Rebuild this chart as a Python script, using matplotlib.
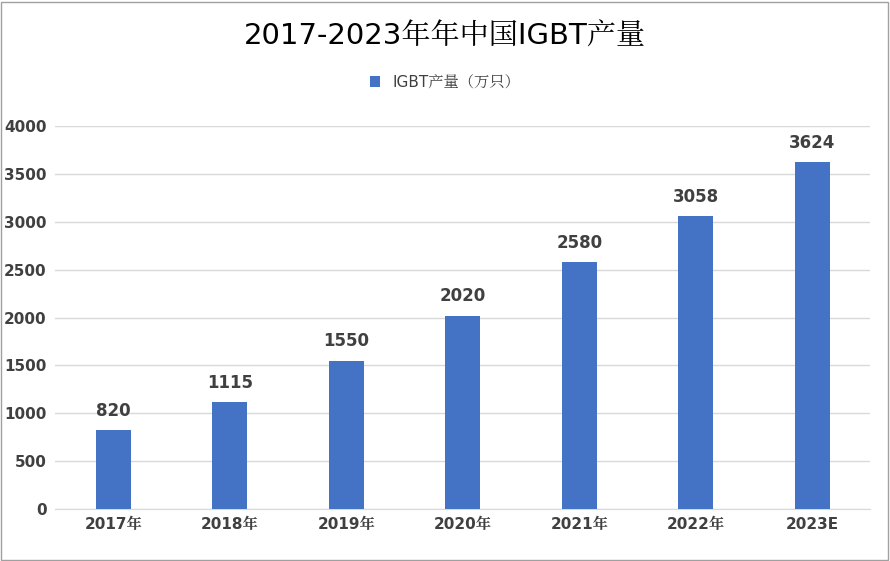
import glob
import matplotlib
matplotlib.use("Agg")
import matplotlib.pyplot as plt
from matplotlib import font_manager as fm
from matplotlib.patches import Rectangle

# find a CJK font file and register it
cjk_name = None
for f in fm.fontManager.ttflist:
    if "CJK" in f.name and "SC" in f.name:
        cjk_name = f.name
        break
if cjk_name is None:
    for path in glob.glob("/usr/share/fonts/**/*CJK*", recursive=True) + \
            glob.glob("/usr/local/share/fonts/**/*CJK*", recursive=True):
        try:
            fm.fontManager.addfont(path)
            cjk_name = fm.FontProperties(fname=path).get_name()
            if "SC" in path or "SC" in cjk_name:
                break
        except Exception:
            pass
plt.rcParams["font.family"] = ["DejaVu Sans", cjk_name or "Noto Sans CJK SC"]

years = ["2017年", "2018年", "2019年", "2020年", "2021年", "2022年", "2023E"]
output = [820, 1115, 1550, 2020, 2580, 3058, 3624]
yticks = [0, 500, 1000, 1500, 2000, 2500, 3000, 3500, 4000]

fig = plt.figure(figsize=(8.9, 5.61), dpi=100)
ax = fig.add_axes([0.062, 0.093, 0.916, 0.682])

x = range(len(years))
bars = ax.bar(x, output, width=0.3, color="#4472C4", zorder=3,
              label="IGBT产量（万只）")
for xi, v in zip(x, output):
    ax.text(xi, v + 110, str(v), ha="center", va="bottom",
            fontsize=12, fontweight="bold", color="#404040")

ax.set_ylim(0, 4000)
ax.set_xlim(-0.5, len(years) - 0.5)
ax.set_yticks(yticks)
ax.set_xticks(list(x))
ax.set_xticklabels(years)
ax.grid(axis="y", color="#d9d9d9", linewidth=1, zorder=0)
for s in ["top", "right", "left"]:
    ax.spines[s].set_visible(False)
ax.spines["bottom"].set_color("#d9d9d9")
ax.tick_params(length=0, labelsize=11, colors="#404040", pad=6)
for lab in ax.get_xticklabels() + ax.get_yticklabels():
    lab.set_fontweight("bold")

fig.text(0.5, 0.935, "2017-2023年年中国IGBT产量", ha="center", va="center",
         fontsize=21, color="black")
fig.legend(handles=[bars], loc="center", bbox_to_anchor=(0.5, 0.853),
           frameon=False, fontsize=11, handlelength=0.7, handleheight=0.7,
           labelcolor="#404040")

fig.patches.append(Rectangle((0.001, 0.002), 0.997, 0.995, transform=fig.transFigure,
                             fill=False, edgecolor="#a0a0a0", linewidth=1))

fig.savefig("out.png", dpi=100)
